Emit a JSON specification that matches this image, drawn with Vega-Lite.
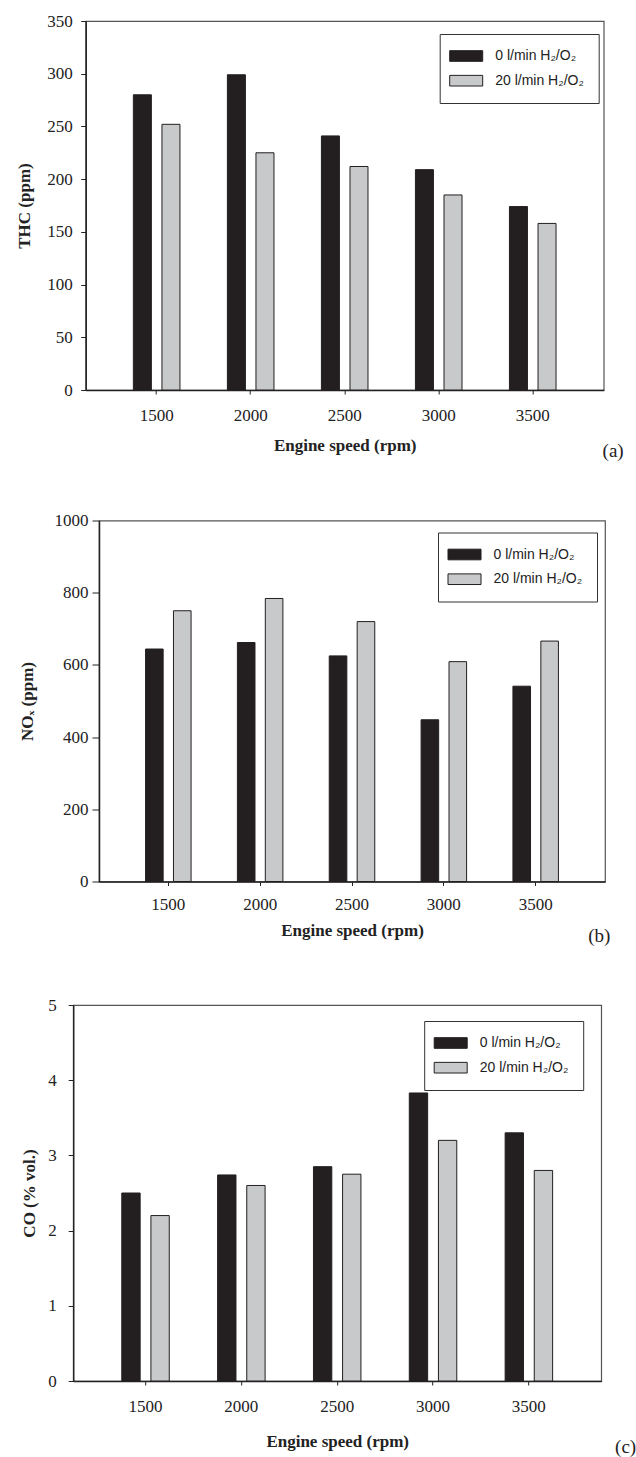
{
  "$schema": "https://vega.github.io/schema/vega-lite/v6.json",
  "padding": {"left": 14, "top": 11, "right": 0, "bottom": 0},
  "background": "white",
  "datasets": {
    "thc": [
      {"speed": 1500, "series": "0 l/min H₂/O₂", "value": 280},
      {"speed": 1500, "series": "20 l/min H₂/O₂", "value": 252},
      {"speed": 2000, "series": "0 l/min H₂/O₂", "value": 299},
      {"speed": 2000, "series": "20 l/min H₂/O₂", "value": 225},
      {"speed": 2500, "series": "0 l/min H₂/O₂", "value": 241},
      {"speed": 2500, "series": "20 l/min H₂/O₂", "value": 212},
      {"speed": 3000, "series": "0 l/min H₂/O₂", "value": 209},
      {"speed": 3000, "series": "20 l/min H₂/O₂", "value": 185},
      {"speed": 3500, "series": "0 l/min H₂/O₂", "value": 174},
      {"speed": 3500, "series": "20 l/min H₂/O₂", "value": 158}
    ],
    "nox": [
      {"speed": 1500, "series": "0 l/min H₂/O₂", "value": 644},
      {"speed": 1500, "series": "20 l/min H₂/O₂", "value": 750},
      {"speed": 2000, "series": "0 l/min H₂/O₂", "value": 662},
      {"speed": 2000, "series": "20 l/min H₂/O₂", "value": 784},
      {"speed": 2500, "series": "0 l/min H₂/O₂", "value": 625},
      {"speed": 2500, "series": "20 l/min H₂/O₂", "value": 720},
      {"speed": 3000, "series": "0 l/min H₂/O₂", "value": 448},
      {"speed": 3000, "series": "20 l/min H₂/O₂", "value": 609},
      {"speed": 3500, "series": "0 l/min H₂/O₂", "value": 541},
      {"speed": 3500, "series": "20 l/min H₂/O₂", "value": 666}
    ],
    "co": [
      {"speed": 1500, "series": "0 l/min H₂/O₂", "value": 2.50},
      {"speed": 1500, "series": "20 l/min H₂/O₂", "value": 2.20},
      {"speed": 2000, "series": "0 l/min H₂/O₂", "value": 2.74},
      {"speed": 2000, "series": "20 l/min H₂/O₂", "value": 2.60},
      {"speed": 2500, "series": "0 l/min H₂/O₂", "value": 2.85},
      {"speed": 2500, "series": "20 l/min H₂/O₂", "value": 2.75},
      {"speed": 3000, "series": "0 l/min H₂/O₂", "value": 3.83},
      {"speed": 3000, "series": "20 l/min H₂/O₂", "value": 3.20},
      {"speed": 3500, "series": "0 l/min H₂/O₂", "value": 3.30},
      {"speed": 3500, "series": "20 l/min H₂/O₂", "value": 2.80}
    ]
  },
  "concat": [
    {
      "width": 518,
      "height": 369,
      "data": {"name": "thc"},
      "title": {"text": "(a)", "orient": "bottom", "anchor": "end", "frame": "group", "offset": -11, "dx": 20},
      "mark": {"type": "bar", "stroke": "#231f20", "strokeWidth": 1},
      "encoding": {
        "x": {"field": "speed", "type": "ordinal", "scale": {"paddingInner": 0.5045, "paddingOuter": 0.507},
              "axis": {"title": "Engine speed (rpm)", "labelPadding": 13, "titlePadding": 14, "tickSize": 4}},
        "xOffset": {"field": "series", "type": "nominal", "scale": {"paddingInner": 0.37, "paddingOuter": 0}},
        "y": {"field": "value", "type": "quantitative", "scale": {"domain": [0, 350], "nice": false},
              "axis": {"title": "THC (ppm)", "values": [0, 50, 100, 150, 200, 250, 300, 350], "labelPadding": 8.5, "titlePadding": 13.6}},
        "fill": {"field": "series", "type": "nominal",
                 "scale": {"domain": ["0 l/min H₂/O₂", "20 l/min H₂/O₂"], "range": ["#231f20", "#c8c9ca"]},
                 "legend": {"legendX": 354, "legendY": 13}}
      }
    },
    {
      "width": 506,
      "height": 361,
      "data": {"name": "nox"},
      "title": {"text": "(b)", "orient": "bottom", "anchor": "end", "frame": "group", "offset": -11.5, "dx": 5.4},
      "mark": {"type": "bar", "stroke": "#231f20", "strokeWidth": 1},
      "encoding": {
        "x": {"field": "speed", "type": "ordinal", "scale": {"paddingInner": 0.5045, "paddingOuter": 0.507},
              "axis": {"title": "Engine speed (rpm)", "labelPadding": 10.5, "titlePadding": 10, "tickSize": 4}},
        "xOffset": {"field": "series", "type": "nominal", "scale": {"paddingInner": 0.37, "paddingOuter": 0}},
        "y": {"field": "value", "type": "quantitative", "scale": {"domain": [0, 1000], "nice": false},
              "axis": {"title": "NOₓ (ppm)", "format": "d", "values": [0, 200, 400, 600, 800, 1000], "tickSize": 7, "labelPadding": 4, "titlePadding": 18}},
        "fill": {"field": "series", "type": "nominal",
                 "scale": {"domain": ["0 l/min H₂/O₂", "20 l/min H₂/O₂"], "range": ["#231f20", "#c8c9ca"]},
                 "legend": {"legendX": 339, "legendY": 12}}
      }
    },
    {
      "width": 528,
      "height": 376,
      "data": {"name": "co"},
      "title": {"text": "(c)", "orient": "bottom", "anchor": "end", "frame": "group", "offset": -12, "dx": 35},
      "mark": {"type": "bar", "stroke": "#231f20", "strokeWidth": 1},
      "encoding": {
        "x": {"field": "speed", "type": "ordinal", "scale": {"paddingInner": 0.5045, "paddingOuter": 0.507},
              "axis": {"title": "Engine speed (rpm)", "labelPadding": 13.5, "titlePadding": 19, "tickSize": 4}},
        "xOffset": {"field": "series", "type": "nominal", "scale": {"paddingInner": 0.37, "paddingOuter": 0}},
        "y": {"field": "value", "type": "quantitative", "scale": {"domain": [0, 5], "nice": false},
              "axis": {"title": "CO (% vol.)", "values": [0, 1, 2, 3, 4, 5], "labelPadding": 12, "titlePadding": 9}},
        "fill": {"field": "series", "type": "nominal",
                 "scale": {"domain": ["0 l/min H₂/O₂", "20 l/min H₂/O₂"], "range": ["#231f20", "#c8c9ca"]},
                 "legend": {"legendX": 351, "legendY": 16}}
      }
    }
  ],
  "columns": 1,
  "center": true,
  "bounds": "full",
  "spacing": 48.5,
  "resolve": {"scale": {"fill": "independent", "x": "independent", "y": "independent", "xOffset": "independent"}, "legend": {"fill": "independent"}},
  "config": {
    "font": "Liberation Serif",
    "view": {"stroke": "#555555", "strokeWidth": 1.2},
    "axis": {
      "labelFont": "Liberation Serif", "labelFontSize": 17, "labelColor": "#222222",
      "titleFont": "Liberation Serif", "titleFontSize": 17, "titleFontWeight": "bold", "titleColor": "#222222",
      "domainColor": "#222222", "domainWidth": 1.5, "tickColor": "#222222", "tickSize": 5, "tickWidth": 1, "grid": false
    },
    "axisX": {"labelAngle": 0},
    "legend": {
      "orient": "none", "title": null, "padding": 14, "rowPadding": 8.7,
      "strokeColor": "#333333", "fillColor": "white",
      "labelFont": "Liberation Sans", "labelFontSize": 14, "labelColor": "#222222",
      "symbolType": "M-2.2,-0.71H2.2V0.71H-2.2Z", "symbolSize": 225, "symbolOffset": 4.5, "labelOffset": 21,
      "symbolStrokeColor": "#231f20", "symbolStrokeWidth": 1, "symbolOpacity": 1
    },
    "title": {"font": "Liberation Serif", "fontSize": 19, "fontWeight": "normal", "color": "#222222"}
  }
}
